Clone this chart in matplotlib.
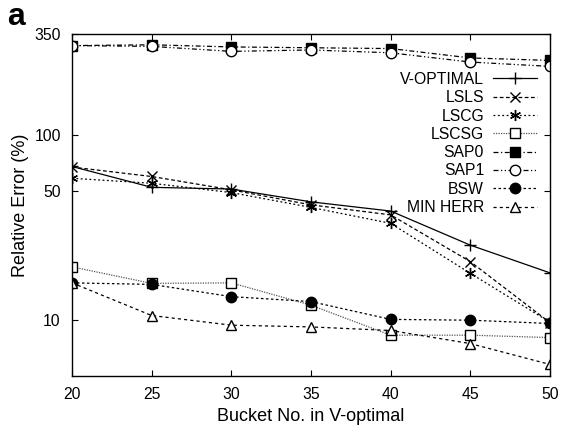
import numpy as np
import matplotlib.pyplot as plt
from matplotlib.ticker import FixedLocator, NullLocator, FixedFormatter

plt.rcParams['font.family'] = ['Liberation Sans', 'DejaVu Sans']

# bucket numbers
buckets = [20, 25, 30, 35, 40, 45, 50]

# relative error (%) per method
v_optimal = [67.5, 52.1, 51.0, 43.5, 38.8, 25.4, 18.0]
lsls = [67.0, 59.6, 50.5, 41.9, 37.0, 20.7, 9.7]
lscg = [58.3, 54.8, 48.8, 40.6, 33.3, 17.9, 9.75]
lscsg = [19.4, 15.8, 15.9, 12.05, 8.3, 8.3, 8.06]
sap0 = [303, 306, 298, 295, 292, 260, 252]
sap1 = [303, 300, 282, 287, 277, 247, 234]
bsw = [15.9, 15.6, 13.4, 12.6, 10.1, 10.0, 9.6]
min_herr = [15.9, 10.6, 9.4, 9.2, 8.8, 7.48, 5.77]

fig = plt.figure(figsize=(5.61, 4.28), dpi=100)
ax = fig.add_axes([0.1283, 0.1215, 0.8521, 0.7991])

lw = 0.9
ms = 7.5
ax.plot(buckets, v_optimal, color='black', lw=lw, ls='-', marker='+', ms=9, mew=1, label='V-OPTIMAL')
ax.plot(buckets, lsls, color='black', lw=lw, ls=(0, (3, 2)), marker='x', ms=ms, mew=1, label='LSLS')
ax.plot(buckets, lscg, color='black', lw=lw, ls=(0, (1.5, 2)), marker=(6, 2, 0), ms=8, mew=1, label='LSCG')
ax.plot(buckets, lscsg, color='#555555', lw=lw, ls=(0, (1, 1)), marker='s', ms=ms, mew=1,
        mfc='white', mec='black', label='LSCSG')
ax.plot(buckets, sap0, color='black', lw=lw, ls=(0, (4, 2, 1, 2)), marker='s', ms=ms, mew=1, label='SAP0')
ax.plot(buckets, sap1, color='black', lw=lw, ls=(0, (4, 2, 1, 2, 1, 2)), marker='o', ms=ms, mew=1,
        mfc='white', label='SAP1')
ax.plot(buckets, bsw, color='black', lw=lw, ls=(0, (2, 2)), marker='o', ms=ms, mew=1, label='BSW')
ax.plot(buckets, min_herr, color='black', lw=lw, ls=(0, (2.5, 2.5)), marker='^', ms=ms, mew=1,
        mfc='white', label='MIN HERR')

ax.set_yscale('log')
ax.set_xlim(20, 50)
ax.set_ylim(5, 350)
ax.yaxis.set_major_locator(FixedLocator([10, 50, 100, 350]))
ax.yaxis.set_major_formatter(FixedFormatter(['10', '50', '100', '350']))
ax.yaxis.set_minor_locator(NullLocator())
ax.set_xticks(buckets)

ax.tick_params(direction='in', length=4, width=0.8, top=True, right=True, labelsize=11.3, pad=8)
for s in ax.spines.values():
    s.set_linewidth(1)

ax.set_xlabel('Bucket No. in V-optimal', fontsize=13, labelpad=4)
ax.set_ylabel('Relative Error (%)', fontsize=13, labelpad=4)

ax.legend(loc='upper right', bbox_to_anchor=(0.99, 0.912), frameon=False, markerfirst=False,
          fontsize=11.3, handlelength=2.8, handletextpad=0.6, labelspacing=0.21, borderpad=0)

fig.text(0.013, 0.96, 'a', fontsize=23, fontweight='bold', va='center', ha='left')

fig.savefig('out.png', dpi=100)
